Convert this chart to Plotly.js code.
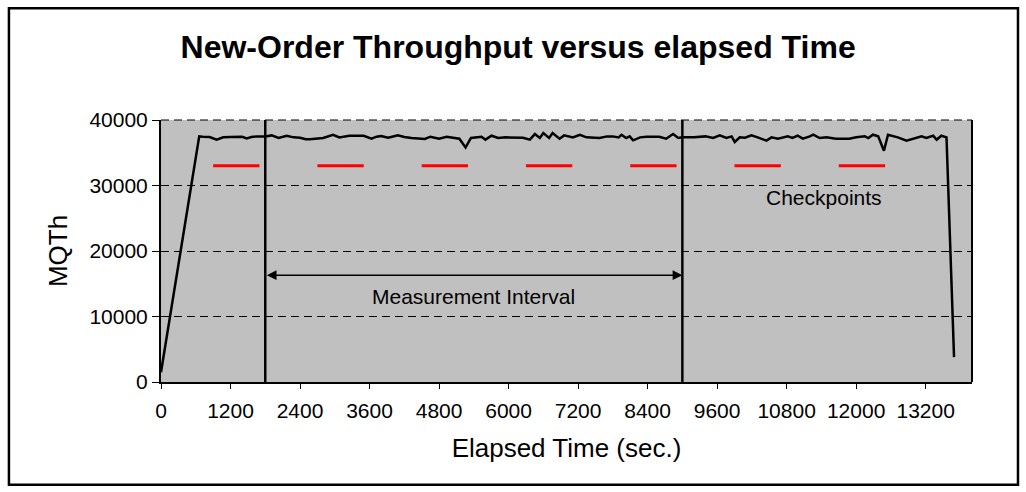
<!DOCTYPE html>
<html>
<head>
<meta charset="utf-8">
<script src="https://cdn.plot.ly/plotly-3.0.1.min.js"></script>
<style>
  html, body { margin: 0; padding: 0; background: #fff; }
  #chart { width: 1026px; height: 492px; }
</style>
</head>
<body>
<div id="chart"></div>
<script>
// Elapsed time (sec.) and New-Order throughput (MQTh)
const elapsedSec = [0, 660, 720, 840, 960, 1075, 1200, 1320, 1400, 1480, 1560, 1660, 1750, 1800, 1910, 2030, 2170, 2290, 2400, 2500, 2570, 2700, 2800, 2970, 3080, 3250, 3400, 3500, 3635, 3720, 3800, 3920, 4090, 4200, 4326, 4450, 4555, 4650, 4800, 4930, 5150, 5258, 5350, 5534, 5600, 5706, 5820, 5950, 6100, 6250, 6368, 6454, 6540, 6600, 6700, 6760, 6880, 6960, 7110, 7230, 7345, 7570, 7700, 7800, 7900, 7950, 8030, 8090, 8150, 8270, 8380, 8600, 8720, 8780, 8840, 8930, 9000, 9200, 9400, 9530, 9647, 9760, 9850, 9905, 9990, 10080, 10193, 10300, 10452, 10540, 10650, 10820, 10900, 10990, 11080, 11200, 11260, 11370, 11490, 11650, 11880, 12000, 12150, 12210, 12290, 12380, 12480, 12550, 12720, 12870, 12980, 13130, 13210, 13330, 13390, 13470, 13560, 13615, 13690];
const mqth = [1500, 37500, 37450, 37400, 37000, 37350, 37400, 37500, 37450, 37200, 37400, 37500, 37450, 37500, 37650, 37250, 37600, 37350, 37300, 37050, 37050, 37200, 37250, 37750, 37350, 37600, 37550, 37600, 37150, 37450, 37550, 37300, 37650, 37400, 37240, 37200, 37100, 37450, 37150, 37450, 37150, 35800, 37250, 37450, 37000, 37600, 37250, 37350, 37350, 37300, 37000, 37850, 37250, 38000, 37250, 38000, 37150, 37650, 37350, 37750, 37350, 37250, 37500, 37500, 37350, 37750, 37250, 37500, 36900, 37350, 37450, 37450, 37150, 37500, 37850, 37250, 37350, 37350, 37500, 37250, 37650, 37250, 37500, 36650, 37350, 37300, 37650, 37350, 36850, 37350, 37150, 37500, 37250, 37600, 37150, 37500, 37750, 37250, 37350, 37150, 37150, 37350, 37500, 37250, 37750, 37500, 35300, 37750, 37350, 36850, 37150, 37500, 37250, 37600, 37000, 37600, 37350, 23500, 3800];

// Checkpoint intervals (sec.) and the level at which they are marked
const checkpointStart = [900, 2700, 4500, 6300, 8100, 9900, 11700];
const checkpointEnd   = [1700, 3500, 5300, 7100, 8900, 10700, 12500];
const checkpointLevel = 33000;

// Measurement interval bounds (sec.)
const measurementInterval = [1800, 9000];
const arrowLevel = 16300;

// Axis ticks
const xTicks = [0, 1200, 2400, 3600, 4800, 6000, 7200, 8400, 9600, 10800, 12000, 13200];
const yTicks = [0, 10000, 20000, 30000, 40000];

const FONT = '"Liberation Sans", Arial, Helvetica, sans-serif';

const traces = [];

// checkpoint red segments
const ckX = [], ckY = [];
checkpointStart.forEach((s, i) => {
  ckX.push(s, checkpointEnd[i], null);
  ckY.push(checkpointLevel, checkpointLevel, null);
});
traces.push({
  type: 'scatter', mode: 'lines', x: ckX, y: ckY,
  line: { color: '#ff0000', width: 3 }, hoverinfo: 'skip', showlegend: false
});

// measurement interval vertical lines
const miX = [], miY = [];
measurementInterval.forEach(t => { miX.push(t, t, null); miY.push(0, 40000, null); });
traces.push({
  type: 'scatter', mode: 'lines', x: miX, y: miY,
  line: { color: '#000', width: 2.5 }, hoverinfo: 'skip', showlegend: false
});

// throughput line
traces.push({
  type: 'scatter', mode: 'lines', x: elapsedSec, y: mqth,
  line: { color: '#000', width: 2.5 }, showlegend: false
});

const layout = {
  width: 1026, height: 492,
  margin: { l: 161, r: 54, t: 120, b: 110 },
  paper_bgcolor: '#ffffff',
  plot_bgcolor: '#c0c0c0',
  font: { family: FONT, color: '#000', size: 21 },
  title: {
    text: '<b>New-Order Throughput versus elapsed Time</b>',
    font: { family: FONT, size: 32, color: '#000' },
    xref: 'container', x: 0.505, xanchor: 'center',
    yref: 'container', y: 0.905, yanchor: 'middle'
  },
  xaxis: {
    range: [0, 14000],
    tickmode: 'array', tickvals: xTicks, ticktext: xTicks.map(String),
    ticks: 'outside', ticklen: 5, tickwidth: 1, tickcolor: '#000',
    ticklabelstandoff: 4,
    showline: true, linecolor: '#000', linewidth: 2,
    showgrid: false, zeroline: false,
    tickfont: { family: FONT, size: 21, color: '#000' },
    title: { text: 'Elapsed Time (sec.)', font: { family: FONT, size: 26, color: '#000' }, standoff: 18 }
  },
  yaxis: {
    range: [0, 40000],
    tickmode: 'array', tickvals: yTicks, ticktext: yTicks.map(String),
    ticks: 'outside', ticklen: 7, tickwidth: 1, tickcolor: '#000',
    showline: true, linecolor: '#000', linewidth: 2,
    showgrid: true, gridcolor: '#000', gridwidth: 1, griddash: '8px,5px',
    zeroline: false,
    tickfont: { family: FONT, size: 21, color: '#000' },
    title: { text: 'MQTh', font: { family: FONT, size: 26, color: '#000' }, standoff: 14 }
  },
  shapes: [
    // right edge of plot area
    { type: 'line', xref: 'paper', yref: 'paper', x0: 1, x1: 1, y0: 0, y1: 1,
      line: { color: '#000', width: 2 } },
    // dashed top gridline at the upper range limit
    { type: 'line', xref: 'paper', yref: 'paper', x0: 0, x1: 1, y0: 1, y1: 1,
      line: { color: '#000', width: 1, dash: '8px,5px' } },
    // outer frame
    { type: 'rect', xref: 'paper', yref: 'paper',
      x0: -0.1875, x1: 1.0567, y0: -0.392, y1: 1.427,
      line: { color: '#000', width: 2.5 }, fillcolor: 'rgba(0,0,0,0)', layer: 'below' }
  ],
  annotations: [
    { x: measurementInterval[1], y: arrowLevel, ax: measurementInterval[0], ay: arrowLevel,
      xref: 'x', yref: 'y', axref: 'x', ayref: 'y',
      showarrow: true, arrowhead: 2, arrowside: 'end+start', arrowsize: 1.3, arrowwidth: 1.5,
      arrowcolor: '#000', text: '', standoff: 0, startstandoff: 0 },
    { x: (measurementInterval[0] + measurementInterval[1]) / 2, y: 13100,
      xref: 'x', yref: 'y', text: 'Measurement Interval', showarrow: false,
      font: { family: FONT, size: 21, color: '#000' }, xanchor: 'center', yanchor: 'middle' },
    { x: 11440, y: 28100, xref: 'x', yref: 'y', text: 'Checkpoints', showarrow: false,
      font: { family: FONT, size: 21, color: '#000' }, xanchor: 'center', yanchor: 'middle' }
  ]
};

Plotly.newPlot('chart', traces, layout, { displayModeBar: false, staticPlot: true });
</script>
</body>
</html>
